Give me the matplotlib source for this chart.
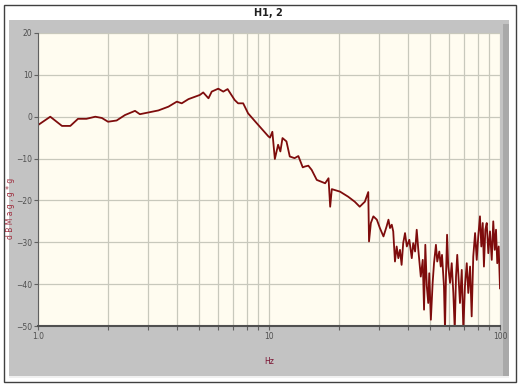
import matplotlib
matplotlib.use("Agg")
import matplotlib.pyplot as plt
from matplotlib.patches import Rectangle
from matplotlib.ticker import FixedLocator, NullFormatter

# smooth part of the response (Hz, dB)
freq_low = [1.0, 1.13, 1.27, 1.38, 1.49, 1.62, 1.77, 1.89, 2.01, 2.19, 2.38,
            2.63, 2.76, 3.32, 3.67, 3.99, 4.19, 4.48, 5.02, 5.19, 5.47, 5.65,
            6.03, 6.34, 6.62, 7.10, 7.35, 7.73, 8.12, 8.83, 9.94, 10.1, 10.34,
            10.6, 10.95, 11.2, 11.44, 11.9, 12.3, 12.9, 13.4, 14.0, 14.3, 14.8,
            15.3, 16.1, 17.5, 18.1, 18.4, 18.7, 20.3, 22.0, 23.5, 24.7, 26.0,
            26.9, 27.1, 27.6, 28.3, 29.3, 30.2, 31.3, 32.3, 32.9, 33.4, 34.0]
mag_low = [-2.0, 0.0, -2.2, -2.2, -0.5, -0.5, 0.0, -0.3, -1.2, -0.9, 0.4,
           1.4, 0.6, 1.5, 2.4, 3.6, 3.2, 4.2, 5.2, 5.8, 4.4, 6.0,
           6.7, 6.0, 6.6, 4.0, 3.2, 3.2, 0.8, -1.5, -4.7, -5.0, -3.6,
           -10.1, -6.7, -8.3, -5.1, -5.9, -9.5, -9.9, -9.4, -12.1, -11.9, -11.7,
           -12.7, -15.1, -15.9, -14.7, -21.5, -17.3, -17.9, -19.1, -20.3, -21.5, -20.3,
           -18.0, -29.8, -25.4, -23.8, -24.6, -26.6, -28.6, -26.2, -24.6, -26.6, -25.8]

# noisy high-frequency part (Hz, dB)
freq_high = [34.5, 35.1, 35.7, 36.3, 36.9, 37.5, 38.1, 38.8, 39.5, 40.5,
             41.5, 42.1, 42.9, 43.6, 44.3, 45.4, 46.3, 46.9, 47.5, 48.2,
             48.9, 49.4, 50.2, 51.1, 51.8, 52.8, 53.5, 54.6, 55.4, 56.1,
             57.2, 57.8, 58.4, 59.0, 59.7, 60.8, 61.8, 62.8, 63.7, 64.5,
             65.3, 66.2, 67.1, 68.3, 69.4, 70.5, 71.8, 72.9, 74.2, 75.4,
             76.6, 78.0, 79.3, 80.5, 81.9, 83.0, 84.2, 85.2, 86.4, 87.6,
             89.0, 90.5, 92.1, 93.5, 94.9, 96.1, 97.3, 98.7, 100.0]
mag_high = [-27.4, -34.6, -31.0, -33.8, -31.8, -35.4, -30.2, -27.8, -31.0, -29.4,
            -33.8, -30.2, -32.2, -27.0, -31.8, -38.2, -34.2, -46.1, -30.6, -40.5,
            -44.5, -37.4, -48.5, -39.7, -35.0, -30.6, -34.6, -32.2, -35.8, -33.0,
            -40.5, -51.0, -37.4, -28.2, -35.8, -39.7, -35.0, -42.1, -51.0, -38.2,
            -33.0, -39.0, -44.5, -36.6, -51.0, -40.5, -35.0, -42.1, -35.8, -47.7,
            -33.4, -27.8, -34.2, -28.6, -23.8, -31.0, -25.4, -35.8, -27.0, -25.4,
            -32.6, -27.4, -34.2, -25.0, -31.8, -27.0, -35.0, -31.0, -41.0]

y_ticks = [20, 10, 0, -10, -20, -30, -40, -50]
x_grid = [2, 3, 4, 5, 6, 7, 8, 9, 20, 30, 40, 50, 60, 70, 80, 90]

W, H = 519, 387
fig = plt.figure(figsize=(W / 100, H / 100), dpi=100)
fig.patch.set_facecolor("white")

def px_rect(x0, y0, x1, y1, **kw):
    r = Rectangle((x0 / W, 1 - y1 / H), (x1 - x0) / W, (y1 - y0) / H,
                  transform=fig.transFigure, zorder=-10, **kw)
    fig.patches.append(r)

# outer frame, grey panel and its shadow
px_rect(3.5, 4.5, 515.5, 381.5, facecolor="white", edgecolor="#404040", lw=1)
px_rect(9, 20, 509, 376, facecolor="#c3c3c3", edgecolor="none")
px_rect(503, 24, 509, 376, facecolor="#a9a9a9", edgecolor="none")
px_rect(9, 376, 509, 378, facecolor="#f0f0f0", edgecolor="none")

fig.text(268 / W, 1 - 13 / H, "H1, 2", ha="center", va="center",
         fontsize=7, fontweight="bold", color="#202020")

ax = fig.add_axes([38 / W, 1 - 326 / H, 462 / W, 293 / H])
ax.set_facecolor("#fffcf0")

ax.plot(freq_low + freq_high, mag_low + mag_high, color="#7e0c0c", lw=1.3)

ax.set_xscale("log")
ax.set_xlim(1, 100)
ax.set_ylim(-50, 20)

ax.xaxis.set_major_locator(FixedLocator([1, 10, 100]))
ax.xaxis.set_minor_locator(FixedLocator(x_grid))
ax.xaxis.set_minor_formatter(NullFormatter())
ax.set_xticklabels(["1.0", "10", "100"])
ax.set_yticks(y_ticks)

ax.grid(True, which="both", axis="x", color="#c8c8bc", lw=0.9)
ax.grid(True, which="major", axis="y", color="#c8c8bc", lw=0.9)
ax.set_axisbelow(True)

for side in ["top", "right"]:
    ax.spines[side].set_visible(False)
ax.spines["left"].set_color("#606060")
ax.spines["bottom"].set_color("#505050")
ax.spines["bottom"].set_linewidth(1.5)

ax.tick_params(which="both", length=3, width=0.8, color="#606060",
               labelsize=5.5, labelcolor="#505050", pad=1)

ax.set_xlabel("Hz", fontsize=5.5, color="#7a1030", labelpad=12)
ax.set_ylabel("d B M a g , g * g", fontsize=5.5, color="#a03040")
ax.yaxis.set_label_coords(-0.05, 0.4)

fig.savefig("out.png", dpi=100)
